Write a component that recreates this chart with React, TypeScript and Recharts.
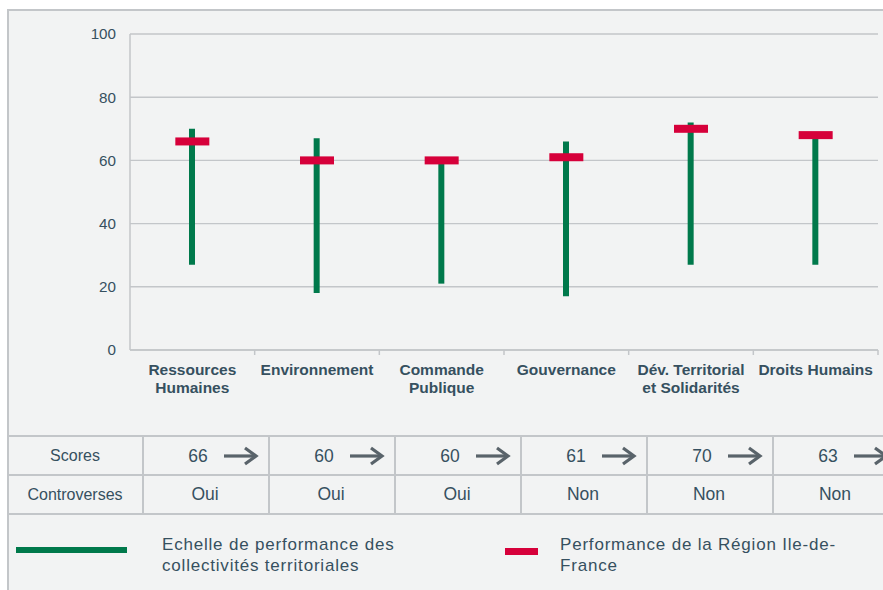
import { ComposedChart, Bar, Scatter, XAxis, YAxis, CartesianGrid } from "recharts";

const categories = [
  "Ressources Humaines",
  "Environnement",
  "Commande Publique",
  "Gouvernance",
  "Dév. Territorial et Solidarités",
  "Droits Humains",
];
const categoryLines = [
  ["Ressources", "Humaines"],
  ["Environnement"],
  ["Commande", "Publique"],
  ["Gouvernance"],
  ["Dév. Territorial", "et Solidarités"],
  ["Droits Humains"],
];
const rangeLow = [27, 18, 21, 17, 27, 27];
const rangeHigh = [70, 67, 60, 66, 72, 68];
const regionScore = [66, 60, 60, 61, 70, 68];
const yTicks = [0, 20, 40, 60, 80, 100];

const scores = [66, 60, 60, 61, 70, 63];
const controversies = ["Oui", "Oui", "Oui", "Non", "Non", "Non"];
const rowLabels = ["Scores", "Controverses"];

const rangeName = ["Echelle de performance des", "collectivités territoriales"];
const regionName = ["Performance de la Région Ile-de-", "France"];

const GREEN = "#00794b";
const RED = "#d6003a";
const GRID = "#c3c6c9";
const TEXT = "#36505f";
const BG = "#f2f3f3";
const FONT = "'Liberation Sans', Arial, sans-serif";

const CHART_W = 883;
const Y_AXIS_W = 130;
const RIGHT_MARGIN = 5;
const BAND = (CHART_W - Y_AXIS_W - RIGHT_MARGIN) / categories.length;

const data = categories.map((name, i) => ({
  name,
  range: [rangeLow[i], rangeHigh[i]],
  region: regionScore[i],
}));

function CategoryTick(props: any) {
  const { x, y, payload } = props;
  const idx = categories.indexOf(payload.value);
  const lines = categoryLines[idx] || [payload.value];
  return (
    <g>
      <line x1={x + BAND / 2} x2={x + BAND / 2} y1={y} y2={y + 5} stroke={GRID} strokeWidth={1.5} />
      <text x={x} y={y + 25} textAnchor="middle" fontWeight={700} fontSize={15.5} fill={TEXT} fontFamily={FONT}>
        {lines.map((l, i) => (
          <tspan key={i} x={x} dy={i === 0 ? 0 : 18.3}>
            {l}
          </tspan>
        ))}
      </text>
    </g>
  );
}

function RegionMarker(props: any) {
  const { cx, cy } = props;
  return <rect x={cx - 17} y={cy - 4} width={34} height={8} fill={RED} />;
}

function Arrow() {
  return (
    <svg width={36} height={20} style={{ display: "block" }}>
      <line x1={1} y1={10} x2={32} y2={10} stroke="#59636a" strokeWidth={3.2} />
      <polyline points="22,2 33,10 22,18" fill="none" stroke="#59636a" strokeWidth={3.2} />
    </svg>
  );
}

const COL0_RIGHT = 142;
const COL_W = 126;
const ROW_Y = [435, 474, 513];

export default function App() {
  const cellText = { position: "absolute" as const, color: TEXT, fontFamily: FONT, whiteSpace: "nowrap" as const };
  return (
    <div style={{ position: "fixed", left: 0, top: 0, width: 883, height: 590, background: "#fff", overflow: "hidden" }}>
      <div
        style={{
          position: "absolute",
          left: 7,
          top: 9,
          width: 900,
          height: 600,
          background: BG,
          borderTop: `2px solid ${GRID}`,
          borderLeft: `2px solid ${GRID}`,
        }}
      />
      <div style={{ position: "absolute", left: 0, top: 0 }}>
        <ComposedChart
          width={CHART_W}
          height={430}
          data={data}
          margin={{ top: 34, right: RIGHT_MARGIN, left: 0, bottom: 20 }}
        >
          <CartesianGrid vertical={false} stroke={GRID} strokeWidth={1.4} />
          <XAxis
            dataKey="name"
            height={60}
            interval={0}
            tickSize={0}
            tickMargin={0}
            tickLine={false}
            axisLine={{ stroke: GRID, strokeWidth: 1.5 }}
            tick={<CategoryTick />}
          />
          <YAxis
            width={Y_AXIS_W}
            domain={[0, 100]}
            ticks={yTicks}
            tickSize={0}
            tickMargin={14}
            tickLine={false}
            axisLine={{ stroke: GRID, strokeWidth: 1.5 }}
            tick={{ fill: TEXT, fontSize: 15.2, fontFamily: FONT }}
          />
          <Bar dataKey="range" fill={GREEN} barSize={6} isAnimationActive={false} />
          <Scatter dataKey="region" fill={RED} shape={<RegionMarker />} isAnimationActive={false} />
        </ComposedChart>
      </div>

      {/* table */}
      {ROW_Y.map((y) => (
        <div key={y} style={{ position: "absolute", left: 8, top: y, width: 900, height: 2, background: GRID }} />
      ))}
      {categories.map((_, i) => (
        <div
          key={i}
          style={{ position: "absolute", left: COL0_RIGHT + i * COL_W, top: ROW_Y[0], width: 2, height: ROW_Y[2] - ROW_Y[0], background: GRID }}
        />
      ))}
      {rowLabels.map((label, r) => (
        <div
          key={label}
          style={{
            ...cellText,
            left: 8,
            width: COL0_RIGHT - 8,
            top: ROW_Y[r] + 1,
            height: ROW_Y[r + 1] - ROW_Y[r],
            display: "flex",
            alignItems: "center",
            justifyContent: "center",
            fontSize: 16,
          }}
        >
          {label}
        </div>
      ))}
      {scores.map((s, i) => (
        <div
          key={i}
          style={{
            ...cellText,
            left: COL0_RIGHT + i * COL_W,
            top: ROW_Y[0] + 2,
            height: ROW_Y[1] - ROW_Y[0],
            display: "flex",
            alignItems: "center",
            fontSize: 17.5,
          }}
        >
          <span style={{ display: "inline-block", width: 112, textAlign: "center" }}>{s}</span>
          <span style={{ position: "absolute", left: 81, top: 9 }}>
            <Arrow />
          </span>
        </div>
      ))}
      {controversies.map((c, i) => (
        <div
          key={i}
          style={{
            ...cellText,
            left: COL0_RIGHT + i * COL_W,
            width: COL_W,
            top: ROW_Y[1] + 1,
            height: ROW_Y[2] - ROW_Y[1],
            display: "flex",
            alignItems: "center",
            justifyContent: "center",
            fontSize: 17.5,
          }}
        >
          {c}
        </div>
      ))}

      {/* legend */}
      <div style={{ position: "absolute", left: 16, top: 547, width: 111, height: 5.5, background: GREEN }} />
      <div style={{ ...cellText, left: 162, top: 535, fontSize: 17, letterSpacing: 0.8, lineHeight: "20.7px" }}>
        {rangeName.map((l) => (
          <div key={l}>{l}</div>
        ))}
      </div>
      <div style={{ position: "absolute", left: 505, top: 547.5, width: 33, height: 7, background: RED }} />
      <div style={{ ...cellText, left: 560, top: 535, fontSize: 17, letterSpacing: 0.8, lineHeight: "20.7px" }}>
        {regionName.map((l) => (
          <div key={l}>{l}</div>
        ))}
      </div>
    </div>
  );
}
